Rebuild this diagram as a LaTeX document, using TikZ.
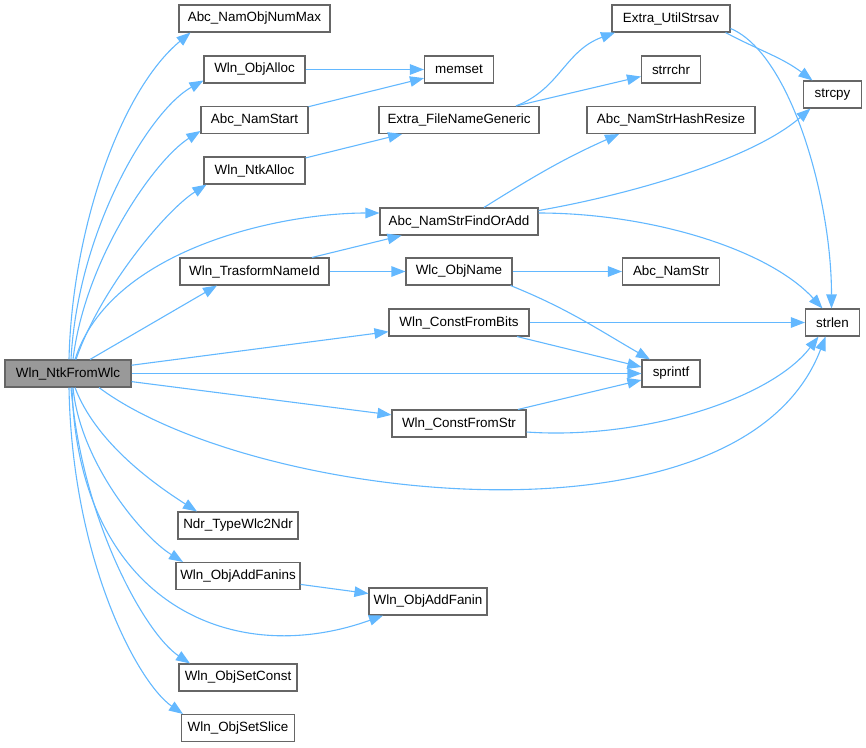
\documentclass[tikz,border=0pt]{standalone}
\usepackage{fontspec}
\setmainfont{Liberation Sans}
\usetikzlibrary{arrows.meta}
\definecolor{edgecol}{HTML}{63B8FF}
\definecolor{boxline}{HTML}{666666}
\definecolor{mainfill}{HTML}{999999}
\begin{document}
\begin{tikzpicture}[x=1pt,y=1pt,
  box/.style={draw=boxline,line width=1.1pt,fill=white,inner sep=0pt,minimum height=27pt,
    font=\fontsize{13.4}{16}\selectfont,anchor=center},
  mainbox/.style={box,fill=mainfill},
  edge/.style={draw=edgecol,line width=1.1pt,-{Triangle[length=14pt,width=10.5pt]}}]
\useasboundingbox (0,0) rectangle (866,-747);
% column 0
\node[mainbox,minimum width=126] (F) at (68,-373.5) {Wln\_NtkFromWlc};
% column 1
\node[box,minimum width=151] (a1) at (254.5,-18.5) {Abc\_NamObjNumMax};
\node[box,minimum width=101] (a2) at (254.5,-69.5) {Wln\_ObjAlloc};
\node[box,minimum width=107] (a3) at (254.5,-120) {Abc\_NamStart};
\node[box,minimum width=101] (a4) at (254.5,-170.5) {Wln\_NtkAlloc};
\node[box,minimum width=149] (TNI) at (254.5,-271.5) {Wln\_TrasformNameId};
\node[box,minimum width=120] (Ndr) at (238,-525.5) {Ndr\_TypeWlc2Ndr};
\node[box,minimum width=124] (AFs) at (238,-576) {Wln\_ObjAddFanins};
\node[box,minimum width=118] (SC) at (238,-677.5) {Wln\_ObjSetConst};
\node[box,minimum width=113] (SS) at (238,-728) {Wln\_ObjSetSlice};
% column 2
\node[box,minimum width=69] (memset) at (459,-69.5) {memset};
\node[box,minimum width=160] (FNG) at (459,-120) {Extra\_FileNameGeneric};
\node[box,minimum width=158] (FOA) at (459,-221.5) {Abc\_NamStrFindOrAdd};
\node[box,minimum width=106] (WON) at (459,-271.5) {Wlc\_ObjName};
\node[box,minimum width=140] (CFB) at (459,-322.5) {Wln\_ConstFromBits};
\node[box,minimum width=134] (CFS) at (459,-423.5) {Wln\_ConstFromStr};
\node[box,minimum width=118] (AFn) at (428,-601.5) {Wln\_ObjAddFanin};
% column 3
\node[box,minimum width=118] (US) at (671,-18.5) {Extra\_UtilStrsav};
\node[box,minimum width=59] (strrchr) at (671,-69.5) {strrchr};
\node[box,minimum width=168] (HR) at (671,-120) {Abc\_NamStrHashResize};
\node[box,minimum width=97] (NS) at (671,-271.5) {Abc\_NamStr};
\node[box,minimum width=58] (sprintf) at (671,-373.5) {sprintf};
% column 4
\node[box,minimum width=58] (strcpy) at (832.5,-94.5) {strcpy};
\node[box,minimum width=54] (strlen) at (832.5,-322.5) {strlen};

% edges from the main node, upward fan
\draw[edge] ([xshift=1]F.north) .. controls +(3,130) and +(-70,-58) .. ([xshift=-64]a1.south);
\draw[edge] ([xshift=3]F.north) .. controls +(7,130) and +(-54,-30) .. ([yshift=-11]a2.west);
\draw[edge] ([xshift=5]F.north) .. controls +(12,100) and +(-46,-29) .. ([yshift=-11]a3.west);
\draw[edge] ([xshift=8]F.north) .. controls +(24,70) and +(-41,-26) .. ([xshift=-48]a4.south);
\draw[edge] ([xshift=7]F.north) .. controls +(35,110) and +(-100,0) .. ([yshift=8.5]FOA.west);
\draw[edge] ([xshift=22]F.north) -- ([xshift=-37.5]TNI.south);
% straight ones
\draw[edge] (F) -- (CFB);
\draw[edge] (F) -- (sprintf);
\draw[edge] (F) -- (CFS);
\draw[edge] ([xshift=31]F.south) .. controls +(151,-113) and +(-85,-223) .. ([xshift=-7]strlen.south);
% downward fan
\draw[edge] ([xshift=7]F.south) .. controls +(20,-53) and +(-47,30) .. ([xshift=-41]Ndr.north);
\draw[edge] ([xshift=5]F.south) .. controls +(7,-73) and +(-43,27) .. ([xshift=-55]AFs.north);
\draw[edge] ([xshift=4]F.south) .. controls +(6,-213) and +(-153,-55) .. ([xshift=-45]AFn.south);
\draw[edge] ([xshift=3]F.south) .. controls +(11,-133) and +(-45,30) .. ([xshift=-48]SC.north);
\draw[edge] ([xshift=1]F.south) .. controls +(3,-173) and +(-45,31) .. ([xshift=-55]SS.north);

% column 1 -> column 2
\draw[edge] (a2) -- (memset);
\draw[edge] (a3) -- (memset);
\draw[edge] (a4) -- (FNG);
\draw[edge] (TNI) -- (FOA);
\draw[edge] (TNI) -- (WON);
\draw[edge] (AFs) -- (AFn);

% column 2 -> further
\draw[edge] ([xshift=57]FNG.north) .. controls +(44,17) and +(-50,-18) .. ([xshift=-56]US.south);
\draw[edge] ([xshift=57]FNG.north) -- ([yshift=-7]strrchr.west);
\draw[edge] ([xshift=25]FOA.north) to[out=32,in=204] ([xshift=-52]HR.south);
\draw[edge] ([yshift=11]FOA.east) .. controls +(87,15) and +(-60,-52) .. ([xshift=-22]strcpy.south);
\draw[edge] ([yshift=8.5]FOA.east) .. controls +(110,0) and +(-55,60) .. ([xshift=-10]strlen.north);
\draw[edge] (WON) -- (NS);
\draw[edge] ([xshift=-2]WON.south east) to[out=-22,in=150] ([xshift=-21]sprintf.north);
\draw[edge] (CFB) -- (strlen);
\draw[edge] ([xshift=58]CFB.south) -- ([yshift=6.5]sprintf.west);
\draw[edge] ([xshift=59]CFS.north) -- ([yshift=-6.5]sprintf.west);
\draw[edge] ([yshift=-8.5]CFS.east) .. controls +(114,-8) and +(-48,-63) .. ([xshift=-14]strlen.south);

% column 3 -> column 4
\draw[edge] ([xshift=-5]US.south east) to[out=-28,in=143] ([xshift=-20]strcpy.north);
\draw[edge] ([yshift=-10]US.east) .. controls +(60,-25) and +(0,110) .. ([xshift=-1]strlen.north);
\end{tikzpicture}
\end{document}
